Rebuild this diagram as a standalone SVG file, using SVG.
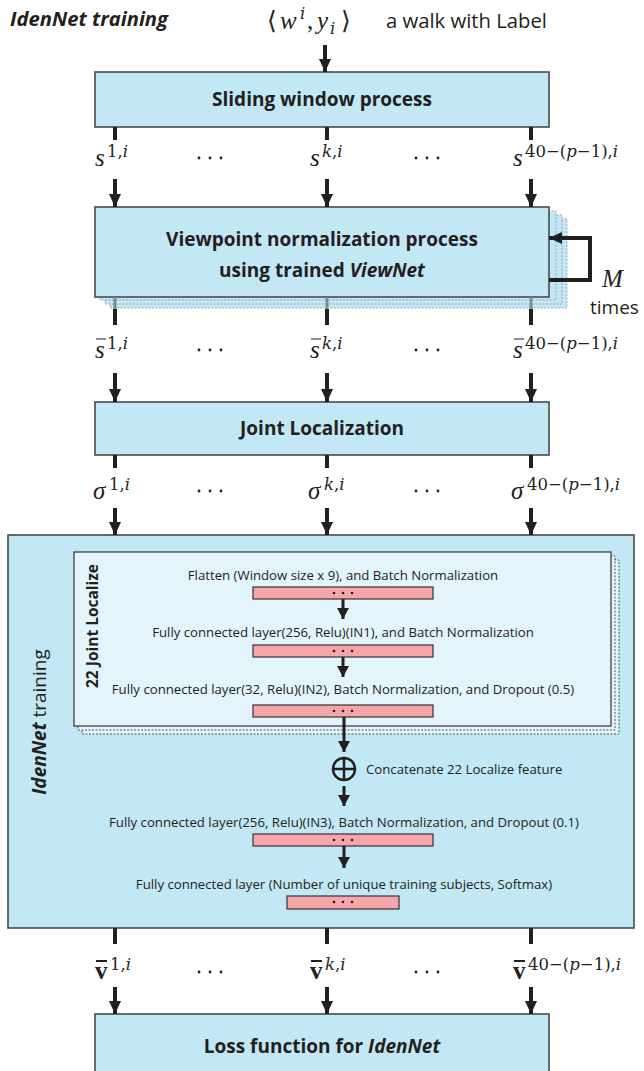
<svg xmlns="http://www.w3.org/2000/svg" width="644" height="1071" viewBox="0 0 644 1071">
<defs>
<style>
.box{fill:#c2e7f5;stroke:#4a4a4a;stroke-width:1.6}
.stk{fill:#c2e7f5;stroke:#8a9aa0;stroke-width:0.8;stroke-dasharray:2 1.5}
.inner{fill:#e3f4fb;stroke:#333;stroke-width:1.2}
.istk{fill:#e3f4fb;stroke:#333;stroke-width:0.8;stroke-dasharray:2 1.5}
.bar{fill:#f6a6aa;stroke:#333;stroke-width:1.2}
.sh{stroke:#231f20;stroke-width:4;fill:none}
.sh3{stroke:#231f20;stroke-width:3;fill:none}
.t{font-family:"Open Sans","Liberation Sans",sans-serif;fill:#231f20}
.tb{font-family:"Open Sans","Liberation Sans",sans-serif;font-weight:bold;fill:#231f20;font-size:19px}
.sm{font-family:"Open Sans","Liberation Sans",sans-serif;fill:#231f20;font-size:13.2px}
.m{font-family:"Liberation Serif","DejaVu Serif",serif;fill:#231f20;font-size:25px}
.ms{font-family:"DejaVu Serif","Liberation Serif",serif;fill:#231f20;font-size:16.5px}
.i{font-style:italic}
.dot{fill:#231f20}
</style>
<marker id="ah" markerWidth="14" markerHeight="12" refX="13" refY="6" orient="auto" markerUnits="userSpaceOnUse">
<path d="M0,0 L13,6 L0,12 Z" fill="#231f20"/>
</marker>
<marker id="ahs" markerWidth="12" markerHeight="12" refX="11" refY="6" orient="auto" markerUnits="userSpaceOnUse">
<path d="M0,0 L11,6 L0,12 Z" fill="#231f20"/>
</marker>
</defs>
<rect width="644" height="1071" fill="#fff"/>

<g id="title">
<text class="tb i" x="10" y="26" font-size="20" textLength="158" lengthAdjust="spacingAndGlyphs">IdenNet training</text>
</g>
<g id="input">
<text class="m" x="267" y="29">⟨</text>
<text class="m i" x="280" y="29">w</text>
<text class="ms i" x="300" y="19">i</text>
<text class="m" x="307" y="29">,</text>
<text class="m i" x="317" y="29">y</text>
<text class="ms i" x="330" y="34">i</text>
<text class="m" x="341" y="29">⟩</text>
<text class="t" x="386" y="28" font-size="20" textLength="161" lengthAdjust="spacingAndGlyphs">a walk with Label</text>
</g>

<g id="sliding">
<rect class="box" x="95" y="72" width="454" height="55"/>
<text class="tb" x="322" y="106" text-anchor="middle">Sliding window process</text>
</g>

<g id="viewpoint">
<rect class="stk" x="110" y="219" width="457" height="89"/>
<rect class="stk" x="105" y="215" width="457" height="89"/>
<rect class="stk" x="100" y="211" width="456" height="89"/>
<rect class="box" x="95" y="207" width="454" height="90"/>
<text class="tb" x="322" y="246" text-anchor="middle">Viewpoint normalization process</text>
<text class="tb" x="322" y="277" text-anchor="middle">using trained <tspan class="i">ViewNet</tspan></text>
<text class="m i" x="602" y="287" font-size="27">M</text>
<text class="t" x="590" y="314" font-size="19">times</text>
</g>

<g id="joint">
<rect class="box" x="95" y="402" width="454" height="53"/>
<text class="tb" x="322" y="435" text-anchor="middle">Joint Localization</text>
</g>

<g id="idennet">
<rect class="box" x="8" y="535" width="626" height="393"/>
<text class="t" transform="translate(46,722) rotate(-90)" text-anchor="middle" font-size="19"><tspan font-weight="bold" font-style="italic">IdenNet</tspan> training</text>
<rect class="istk" x="82" y="560" width="537" height="174"/>
<rect class="istk" x="78" y="556" width="537" height="174"/>
<rect class="inner" x="74" y="552" width="537" height="174"/>
<text class="t" transform="translate(98,626) rotate(-90)" text-anchor="middle" font-size="15.5" font-weight="bold">22 Joint Localize</text>
<text class="sm" x="343" y="580" text-anchor="middle">Flatten (Window size x 9), and Batch Normalization</text>
<rect class="bar" x="253" y="587" width="180" height="12"/>
<text class="sm" x="343" y="637" text-anchor="middle">Fully connected layer(256, Relu)(IN1), and Batch Normalization</text>
<rect class="bar" x="253" y="645" width="180" height="12"/>
<text class="sm" x="343" y="694" text-anchor="middle">Fully connected layer(32, Relu)(IN2), Batch Normalization, and Dropout (0.5)</text>
<rect class="bar" x="253" y="705" width="180" height="12"/>
<circle cx="344" cy="769" r="11" fill="none" stroke="#231f20" stroke-width="2.5"/>
<path d="M333,769 H355 M344,758 V780" stroke="#231f20" stroke-width="2.5"/>
<text class="sm" x="366" y="774">Concatenate 22 Localize feature</text>
<text class="sm" x="344" y="827" text-anchor="middle">Fully connected layer(256, Relu)(IN3), Batch Normalization, and Dropout (0.1)</text>
<rect class="bar" x="253" y="834" width="180" height="12"/>
<text class="sm" x="344" y="889" text-anchor="middle">Fully connected layer (Number of unique training subjects, Softmax)</text>
<rect class="bar" x="287" y="896" width="112" height="13"/>
<g class="dot">
<circle cx="334" cy="593" r="1.3"/><circle cx="343" cy="593" r="1.3"/><circle cx="352" cy="593" r="1.3"/>
<circle cx="334" cy="651" r="1.3"/><circle cx="343" cy="651" r="1.3"/><circle cx="352" cy="651" r="1.3"/>
<circle cx="334" cy="711" r="1.3"/><circle cx="343" cy="711" r="1.3"/><circle cx="352" cy="711" r="1.3"/>
<circle cx="334" cy="840" r="1.3"/><circle cx="343" cy="840" r="1.3"/><circle cx="352" cy="840" r="1.3"/>
<circle cx="334" cy="902" r="1.3"/><circle cx="343" cy="902" r="1.3"/><circle cx="352" cy="902" r="1.3"/>
</g>
</g>

<g id="loss">
<rect class="box" x="95" y="1014" width="454" height="80"/>
<text class="tb" x="322" y="1053" text-anchor="middle">Loss function for <tspan class="i">IdenNet</tspan></text>
</g>

<g id="labels">
<text class="m i" x="95" y="166">s</text>
<text class="ms" x="107" y="157">1,<tspan class="i">i</tspan></text>
<text class="m i" x="310" y="166">s</text>
<text class="ms" x="322" y="157"><tspan class="i">k</tspan>,<tspan class="i">i</tspan></text>
<text class="m i" x="513" y="166">s</text>
<text class="ms" x="525" y="157">40−(<tspan class="i">p</tspan>−1),<tspan class="i">i</tspan></text>

<text class="m i" x="95" y="358">s</text>
<text class="ms" x="107" y="349">1,<tspan class="i">i</tspan></text>
<text class="m i" x="310" y="358">s</text>
<text class="ms" x="322" y="349"><tspan class="i">k</tspan>,<tspan class="i">i</tspan></text>
<text class="m i" x="513" y="358">s</text>
<text class="ms" x="525" y="349">40−(<tspan class="i">p</tspan>−1),<tspan class="i">i</tspan></text>
<path d="M96,339 H106 M311,339 H321 M514,339 H524" stroke="#231f20" stroke-width="1.2"/>

<text class="m i" x="93" y="499">σ</text>
<text class="ms" x="109" y="490">1,<tspan class="i">i</tspan></text>
<text class="m i" x="308" y="499">σ</text>
<text class="ms" x="324" y="490"><tspan class="i">k</tspan>,<tspan class="i">i</tspan></text>
<text class="m i" x="511" y="499">σ</text>
<text class="ms" x="527" y="490">40−(<tspan class="i">p</tspan>−1),<tspan class="i">i</tspan></text>

<text class="m" x="95" y="979" font-weight="bold">v</text>
<text class="ms" x="110" y="970">1,<tspan class="i">i</tspan></text>
<text class="m" x="310" y="979" font-weight="bold">v</text>
<text class="ms" x="325" y="970"><tspan class="i">k</tspan>,<tspan class="i">i</tspan></text>
<text class="m" x="513" y="979" font-weight="bold">v</text>
<text class="ms" x="528" y="970">40−(<tspan class="i">p</tspan>−1),<tspan class="i">i</tspan></text>
<path d="M96,961 H107 M311,961 H322 M514,961 H525" stroke="#231f20" stroke-width="1.8"/>

<g class="dot">
<circle cx="199" cy="158" r="1.4"/><circle cx="210" cy="158" r="1.4"/><circle cx="221" cy="158" r="1.4"/>
<circle cx="416" cy="158" r="1.4"/><circle cx="427" cy="158" r="1.4"/><circle cx="438" cy="158" r="1.4"/>
<circle cx="199" cy="350" r="1.4"/><circle cx="210" cy="350" r="1.4"/><circle cx="221" cy="350" r="1.4"/>
<circle cx="416" cy="350" r="1.4"/><circle cx="427" cy="350" r="1.4"/><circle cx="438" cy="350" r="1.4"/>
<circle cx="199" cy="491" r="1.4"/><circle cx="210" cy="491" r="1.4"/><circle cx="221" cy="491" r="1.4"/>
<circle cx="416" cy="491" r="1.4"/><circle cx="427" cy="491" r="1.4"/><circle cx="438" cy="491" r="1.4"/>
<circle cx="199" cy="972" r="1.4"/><circle cx="210" cy="972" r="1.4"/><circle cx="221" cy="972" r="1.4"/>
<circle cx="416" cy="972" r="1.4"/><circle cx="427" cy="972" r="1.4"/><circle cx="438" cy="972" r="1.4"/>
</g>
</g>

<g id="connectors">
<line class="sh" x1="325" y1="45" x2="325" y2="72" marker-end="url(#ah)"/>
<path class="sh" d="M115,127 V140 M327,127 V140 M531,127 V140"/>
<line class="sh" x1="115" y1="179" x2="115" y2="207" marker-end="url(#ah)"/>
<line class="sh" x1="327" y1="179" x2="327" y2="207" marker-end="url(#ah)"/>
<line class="sh" x1="531" y1="179" x2="531" y2="207" marker-end="url(#ah)"/>
<path d="M115,297 V309 M327,297 V309 M531,297 V309" stroke="#7f8a8e" stroke-width="3"/>
<path class="sh" d="M115,309 V325 M327,309 V325 M531,309 V325"/>
<path class="sh" d="M549,280 H590 V238 H560" fill="none"/>
<line class="sh" x1="580" y1="238" x2="549" y2="238" marker-end="url(#ah)"/>
<line class="sh" x1="115" y1="373" x2="115" y2="402" marker-end="url(#ah)"/>
<line class="sh" x1="327" y1="373" x2="327" y2="402" marker-end="url(#ah)"/>
<line class="sh" x1="531" y1="373" x2="531" y2="402" marker-end="url(#ah)"/>
<path class="sh" d="M115,455 V468 M327,455 V468 M531,455 V468"/>
<line class="sh" x1="115" y1="508" x2="115" y2="535" marker-end="url(#ah)"/>
<line class="sh" x1="327" y1="508" x2="327" y2="535" marker-end="url(#ah)"/>
<line class="sh" x1="531" y1="508" x2="531" y2="535" marker-end="url(#ah)"/>
<line class="sh3" x1="343" y1="599" x2="343" y2="619" marker-end="url(#ahs)"/>
<line class="sh3" x1="343" y1="657" x2="343" y2="677" marker-end="url(#ahs)"/>
<line class="sh3" x1="344" y1="717" x2="344" y2="752" marker-end="url(#ahs)"/>
<line class="sh3" x1="344" y1="786" x2="344" y2="806" marker-end="url(#ahs)"/>
<line class="sh3" x1="344" y1="846" x2="344" y2="868" marker-end="url(#ahs)"/>
<path class="sh" d="M115,928 V944 M327,928 V944 M531,928 V944"/>
<line class="sh" x1="115" y1="987" x2="115" y2="1014" marker-end="url(#ah)"/>
<line class="sh" x1="327" y1="987" x2="327" y2="1014" marker-end="url(#ah)"/>
<line class="sh" x1="531" y1="987" x2="531" y2="1014" marker-end="url(#ah)"/>
</g>
</svg>
